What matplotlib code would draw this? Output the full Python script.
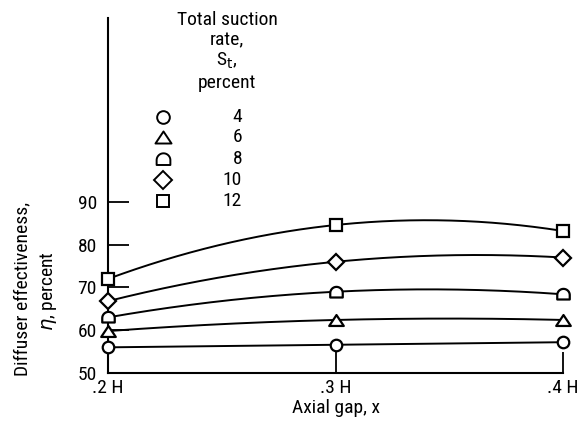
import numpy as np
import matplotlib.pyplot as plt
from matplotlib.path import Path

# 轴向间隙 x（以 H 为单位）
gap = [0.2, 0.3, 0.4]
gap_labels = ['.2 H', '.3 H', '.4 H']

# 各总抽吸率下的扩压器效率 (percent)
suction = [4, 6, 8, 10, 12]
eta_4 = [56.0, 56.6, 57.2]
eta_6 = [59.8, 62.4, 62.4]
eta_8 = [63.0, 69.0, 68.4]
eta_10 = [66.8, 76.0, 77.0]
eta_12 = [72.0, 84.6, 83.2]
eta_all = [eta_4, eta_6, eta_8, eta_10, eta_12]

# 半圆形符号（上圆下平）
theta = np.linspace(0, np.pi, 24)
verts = [(np.cos(t), np.sin(t) - 0.1) for t in theta] + [(-1.0, -0.8), (1.0, -0.8)]
half_circle = Path(verts + [verts[0]], closed=True)
# 扁一点的三角形
tri = Path([(0, 0.75), (-1, -0.75), (1, -0.75), (0, 0.75)], closed=True)

markers = ['o', tri, half_circle, 'D', 's']
msizes = [8.3, 10.5, 9.0, 8.3, 8.0]

plt.rcParams['font.family'] = ['Roboto Condensed', 'Sofia Sans Semi Condensed', 'DejaVu Sans']
plt.rcParams['mathtext.fontset'] = 'dejavusans'
fs = 14

fig = plt.figure(figsize=(5.81, 4.26), dpi=100)
ax = fig.add_axes([108 / 581, 53 / 426, 455 / 581, 355 / 426])

# 平滑曲线：对三个点做二次拟合
xs = np.linspace(0.2, 0.4, 200)
for eta, mk, ms in zip(eta_all, markers, msizes):
    coef = np.polyfit(gap, eta, 2)
    ax.plot(xs, np.polyval(coef, xs), color='k', lw=1.4, zorder=2)
    ax.plot(gap, eta, ls='none', marker=mk, ms=ms, mfc='white', mec='k', mew=1.6,
            clip_on=False, zorder=3)

ax.set_xlim(0.2, 0.4)
ax.set_ylim(50, 133)
ax.spines['top'].set_visible(False)
ax.spines['right'].set_visible(False)
ax.spines['left'].set_linewidth(1.5)
ax.spines['bottom'].set_linewidth(1.5)

ax.set_yticks([50, 60, 70, 80, 90])
ax.tick_params(axis='y', direction='in', length=15, width=1.3, pad=8, labelsize=fs)
ax.set_xticks(gap)
ax.set_xticklabels(gap_labels)
ax.tick_params(axis='x', direction='in', length=15, width=1.3, pad=4, labelsize=fs)

ax.set_xlabel('Axial gap, x', fontsize=fs, labelpad=2)
fig.text(22 / 581, 1 - 289 / 426, 'Diffuser effectiveness,', rotation=90,
         ha='center', va='center', fontsize=fs)
fig.text(48 / 581, 1 - 291 / 426, r'$\eta$, percent', rotation=90,
         ha='center', va='center', fontsize=fs)

# 图例
fig.text(227 / 581, 1 - 20 / 426, 'Total suction', ha='center', va='center', fontsize=fs)
fig.text(227 / 581, 1 - 40 / 426, 'rate,', ha='center', va='center', fontsize=fs)
fig.text(227 / 581, 1 - 61 / 426, r'S$_\mathrm{t}$,', ha='center', va='center', fontsize=fs)
fig.text(227 / 581, 1 - 83 / 426, 'percent', ha='center', va='center', fontsize=fs)
leg_y = [117, 137, 159, 180, 201]
for s, mk, ms, yy in zip(suction, markers, msizes, leg_y):
    fy = 1 - yy / 426
    fig.lines.append(plt.Line2D([163 / 581], [fy], ls='none', marker=mk, ms=ms * 1.1,
                                mfc='white', mec='k', mew=1.4, transform=fig.transFigure))
    fig.text(242 / 581, fy, str(s), ha='right', va='center', fontsize=fs)

plt.savefig('out.png', dpi=100)
